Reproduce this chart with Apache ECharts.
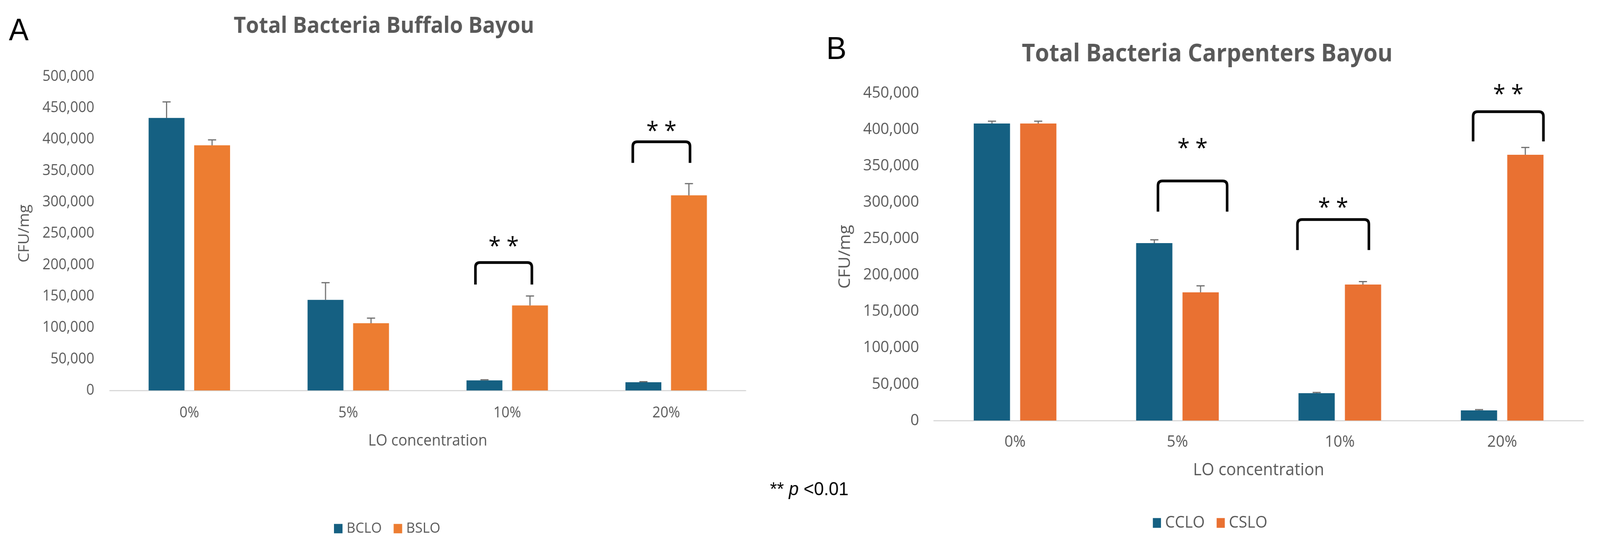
<!DOCTYPE html>
<html><head><meta charset="utf-8">
<script src="https://cdn.jsdelivr.net/npm/echarts@6/dist/echarts.min.js"></script>
<style>
html,body{margin:0;padding:0;background:#fff;overflow:hidden;width:100%;height:100%}
#wrap{position:relative;width:100vw;height:100vh;overflow:hidden}
#c{position:absolute;left:0;top:0;width:4326px;height:1397px;transform-origin:0 0}
</style>
</head><body><div id="wrap"><div id="c"></div></div>
<script>
// ---- data ----
const categories = ['0%', '5%', '10%', '20%'];
const bcloValues = [434100, 144300, 16000, 13000];
const bcloErrors = [25600, 27400, 1000, 1000];
const bsloValues = [390500, 107100, 135400, 310800];
const bsloErrors = [8700, 8100, 15100, 18700];
const ccloValues = [408100, 243800, 37600, 14000];
const ccloErrors = [3200, 4500, 1000, 1000];
const csloValues = [408100, 176100, 186900, 365200];
const csloErrors = [3200, 9000, 4000, 10000];
const yMaxA = 500000, yStepA = 50000;
const yMaxB = 450000, yStepB = 50000;
// significance brackets: [category index, bracket top, leg foot, star label height]
const bracketsA = [[2, 203700, 168800, 234200], [3, 396100, 362500, 418000]];
const bracketsB = [[1, 329200, 287000, 378100], [2, 276200, 234200, 296500], [3, 424300, 383500, 452200]];

// ---- styling ----
const bracketSpanA = [[-0.2, 0.155], [-0.21, 0.15]];
const bracketSpanB = [[-0.12, 0.306], [-0.261, 0.179], [-0.179, 0.254]];
const FONT = 'Open Sans';
const GRAY = '#595959';

// fit the fixed 4326x1397 figure to the actual viewport
(function fit() {
  const el = document.getElementById('c');
  const w = window.innerWidth || 4326, h = window.innerHeight || 1397;
  const sx = w / 4326, sy = h / 1397;
  if (Math.abs(sx - 1) > 0.002 || Math.abs(sy - 1) > 0.002) {
    el.style.transform = 'scale(' + sx + ',' + sy + ')';
  }
})();

function fmt(v) { return v.toLocaleString('en-US'); }

function errorSeries(values, errs, side, axisIdx, barW, gap) {
  return {
    type: 'custom', xAxisIndex: axisIdx, yAxisIndex: axisIdx, z: 5, silent: true,
    data: values.map((v, i) => [i, v, v + errs[i]]),
    renderItem(params, api) {
      const p0 = api.coord([api.value(0), api.value(1)]);
      const p1 = api.coord([api.value(0), api.value(2)]);
      const x = p0[0] + side * (barW + gap) / 2;
      const st = { stroke: '#6f6f6f', lineWidth: 3 };
      return { type: 'group', children: [
        { type: 'line', shape: { x1: x, y1: p0[1], x2: x, y2: p1[1] }, style: st },
        { type: 'line', shape: { x1: x - 11, y1: p1[1], x2: x + 11, y2: p1[1] }, style: st }
      ] };
    }
  };
}

function bracketSeries(list, spans, axisIdx) {
  return {
    type: 'custom', xAxisIndex: axisIdx, yAxisIndex: axisIdx, z: 6, silent: true,
    data: list,
    renderItem(params, api) {
      const cat = api.value(0);
      const t = api.coord([cat, api.value(1)]);
      const f = api.coord([cat, api.value(2)]);
      const s = api.coord([cat, api.value(3)]);
      const band = api.size([1, 0])[0];
      const sp = spans[params.dataIndex];
      const xl = t[0] + sp[0] * band, xr = t[0] + sp[1] * band;
      const yt = t[1], yf = f[1], r = 12;
      const d = `M${xl} ${yf} L${xl} ${yt + r} Q${xl} ${yt} ${xl + r} ${yt} L${xr - r} ${yt} Q${xr} ${yt} ${xr} ${yt + r} L${xr} ${yf}`;
      return { type: 'group', children: [
        { type: 'path', shape: { pathData: d, x: xl, y: yt, width: xr - xl, height: yf - yt, layout: 'cover' },
          style: { fill: 'none', stroke: '#000', lineWidth: 7 } },
        { type: 'text', x: (xl + xr) / 2, y: s[1] + 10,
          style: { text: '* *', fill: '#000', fontSize: 60, fontFamily: FONT, align: 'center', verticalAlign: 'middle' } }
      ] };
    }
  };
}

function xAxisCfg(idx, fs, nfs, margin, nameGap) {
  return {
    type: 'category', gridIndex: idx, data: categories,
    name: 'LO concentration', nameLocation: 'middle', nameGap: nameGap,
    nameTextStyle: { fontSize: nfs, color: GRAY, fontFamily: FONT },
    axisLine: { show: true, lineStyle: { color: '#d9d9d9', width: 3 } },
    axisTick: { show: false },
    axisLabel: { fontSize: fs, color: GRAY, fontFamily: FONT, margin: margin },
    splitLine: { show: false }
  };
}
function yAxisCfg(idx, max, step, fs, nfs, margin, nameGap) {
  return {
    type: 'value', gridIndex: idx, min: 0, max: max, interval: step,
    name: 'CFU/mg', nameLocation: 'middle', nameGap: nameGap,
    nameTextStyle: { fontSize: nfs, color: GRAY, fontFamily: FONT },
    axisLine: { show: false }, axisTick: { show: false }, splitLine: { show: false },
    axisLabel: { fontSize: fs, color: GRAY, fontFamily: FONT, margin: margin, formatter: fmt }
  };
}

const chart = echarts.init(document.getElementById('c'), null, { width: 4326, height: 1397 });
chart.setOption({
  backgroundColor: '#fff',
  animation: false,
  grid: [
    { left: 297, top: 196, width: 1719, height: 803, outerBoundsMode: 'none' },
    { left: 2525, top: 238, width: 1756, height: 838, outerBoundsMode: 'none' }
  ],
  xAxis: [xAxisCfg(0, 38, 40, 39, 110), xAxisCfg(1, 41, 44, 35, 105)],
  yAxis: [yAxisCfg(0, yMaxA, yStepA, 38, 40, 42, 210), yAxisCfg(1, yMaxB, yStepB, 41, 44, 40, 218)],
  legend: [
    { data: ['BCLO', 'BSLO'], left: 898, top: 1329, itemWidth: 23, itemHeight: 24, itemGap: 32, icon: 'rect',
      textStyle: { fontSize: 37, color: GRAY, fontFamily: FONT, padding: [0, 0, 0, 6] } },
    { data: ['CCLO', 'CSLO'], left: 3112, top: 1312, itemWidth: 22, itemHeight: 25, itemGap: 32, icon: 'rect',
      textStyle: { fontSize: 42, color: GRAY, fontFamily: FONT, padding: [0, 0, 0, 6] } }
  ],
  graphic: [
    { type: 'text', x: 1038, y: 68, style: { text: 'Total Bacteria Buffalo Bayou', fill: GRAY, fontSize: 57, fontWeight: 'bold', fontFamily: FONT, align: 'center', verticalAlign: 'middle' } },
    { type: 'text', x: 3264, y: 139, style: { text: 'Total Bacteria Carpenters Bayou', fill: GRAY, fontSize: 62, fontWeight: 'bold', fontFamily: FONT, align: 'center', verticalAlign: 'middle' } },
    { type: 'text', x: 24, y: 81, style: { text: 'A', fill: '#000', fontSize: 80, fontFamily: 'Liberation Sans', align: 'left', verticalAlign: 'middle' } },
    { type: 'text', x: 2234, y: 128, style: { text: 'B', fill: '#000', fontSize: 82, fontFamily: 'Liberation Sans', align: 'left', verticalAlign: 'middle' } },
    { type: 'text', x: 2082, y: 1254, style: {
        text: '{s|** }{p|p}{s| <0.01}', align: 'left', verticalAlign: 'middle',
        rich: {
          s: { fontSize: 48, fontFamily: 'Liberation Sans', fill: '#000', color: '#000' },
          p: { fontSize: 48, fontFamily: 'Liberation Sans', fontStyle: 'italic', fill: '#000', color: '#000' }
        } } }
  ],
  series: [
    { name: 'BCLO', type: 'bar', xAxisIndex: 0, yAxisIndex: 0, data: bcloValues, barWidth: 97, barGap: '27%', itemStyle: { color: '#156082' } },
    { name: 'BSLO', type: 'bar', xAxisIndex: 0, yAxisIndex: 0, data: bsloValues, barWidth: 97, barGap: '27%', itemStyle: { color: '#ED7D31' } },
    { name: 'CCLO', type: 'bar', xAxisIndex: 1, yAxisIndex: 1, data: ccloValues, barWidth: 98, barGap: '28%', itemStyle: { color: '#156082' } },
    { name: 'CSLO', type: 'bar', xAxisIndex: 1, yAxisIndex: 1, data: csloValues, barWidth: 98, barGap: '28%', itemStyle: { color: '#E97132' } },
    errorSeries(bcloValues, bcloErrors, -1, 0, 97, 26),
    errorSeries(bsloValues, bsloErrors, 1, 0, 97, 26),
    errorSeries(ccloValues, ccloErrors, -1, 1, 98, 27),
    errorSeries(csloValues, csloErrors, 1, 1, 98, 27),
    bracketSeries(bracketsA, bracketSpanA, 0),
    bracketSeries(bracketsB, bracketSpanB, 1)
  ]
});
</script></body></html>
